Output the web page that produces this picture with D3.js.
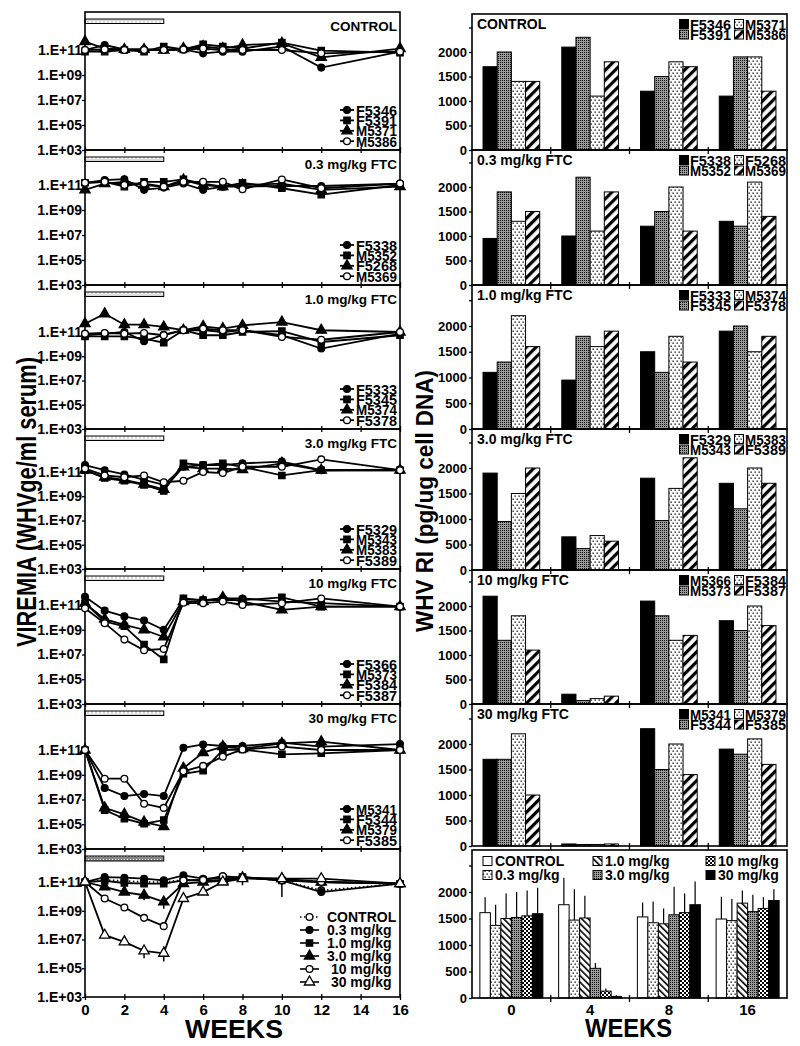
<!DOCTYPE html>
<html><head><meta charset="utf-8">
<script src="https://cdn.jsdelivr.net/npm/d3@7"></script>
<style>
body{margin:0;background:#fff}
svg{display:block}
text{font-family:"Liberation Sans",Arial,Helvetica,sans-serif;font-weight:bold;fill:#000}
</style>
</head><body>
<svg id="c" width="800" height="1046"></svg>
<script>
// ---------------- DATA ----------------
const weeks = [0,1,2,3,4,5,6,7,8,10,12,16];
const weekTicks = [0,2,4,6,8,10,12,14,16];
const weekTickLabels = ["0","2","4","6","8","10","12","14","16"];
const logTicks = [1e3,1e5,1e7,1e9,1e11];
const logTickLabels = ["1.E+03","1.E+05","1.E+07","1.E+09","1.E+11"];
const treatmentWeeks = [0,4];
const panelTitles = ["CONTROL","0.3 mg/kg FTC","1.0 mg/kg FTC","3.0 mg/kg FTC","10 mg/kg FTC","30 mg/kg FTC"];

const leftAnimals = [
  ["F5346","F5391","M5371","M5386"],
  ["F5338","M5352","F5268","M5369"],
  ["F5333","F5345","M5374","F5378"],
  ["F5329","M5343","M5383","F5389"],
  ["F5366","M5373","F5384","F5387"],
  ["M5341","F5344","M5379","F5385"]
];
const rightAnimals = [
  ["F5346","F5391","M5371","M5386"],
  ["F5338","M5352","F5268","M5369"],
  ["F5333","F5345","M5374","F5378"],
  ["F5329","M5343","M5383","F5389"],
  ["M5366","M5373","F5384","F5387"],
  ["M5341","F5344","M5379","F5385"]
];

// viremia (WHVge/ml serum), one row per animal, values at `weeks`
const viremiaControl = [
  [1e11,2.5e11,1.1e11,1.1e11,1e11,1.1e11,5.4e10,7.4e10,7.4e10,1.9e11,3.9e9,7.4e10],
  [7.4e10,7.4e10,1e11,7.4e10,1.9e11,1.1e11,2.8e11,1.9e11,1.3e11,3.9e11,8.9e10,6.2e10],
  [4.7e11,1.3e11,1.1e11,1.1e11,1e11,1.3e11,1.9e11,1.3e11,2.5e11,3.4e11,2.6e10,1.3e11],
  [1e11,1.1e11,1e11,1e11,1e11,1.1e11,1.3e11,1e11,1e11,1e11,5.4e10,7.4e10]
];
const viremia03 = [
  [1.5e11,2.5e11,2.9e11,4.1e10,6.2e10,1.3e11,4.1e10,7.4e10,7.4e10,8.3e10,8.3e10,1.3e11],
  [1.5e11,1.8e11,7.4e10,1.8e11,1.8e11,2.8e11,1.3e11,7.4e10,1.5e11,5.5e10,1.7e10,1e11],
  [4.1e10,1.3e11,1.8e11,1e11,7.4e10,2.5e11,1e11,7.4e10,1e11,1.3e11,4.1e10,7.4e10],
  [1.5e11,1.8e11,1e11,1.3e11,7.4e10,1.8e11,1.8e11,1.8e11,4.6e10,2.8e11,5.5e10,1.3e11]
];
const viremia1 = [
  [5.4e10,7.3e10,1e11,1.7e10,6e10,1.4e11,1.4e11,1e11,1.4e11,5.4e10,4.3e9,7.3e10],
  [4.4e10,4.4e10,4.4e10,2.8e10,1.3e10,1.4e11,5.4e10,5.4e10,1e11,1.2e11,1.5e10,5.4e10],
  [4.8e11,3.2e12,4e11,4e11,2.6e11,1.4e11,2.9e11,1.9e11,3.5e11,6.6e11,1.4e11,1e11],
  [7.3e10,8.3e10,7.3e10,8.3e10,5.4e10,1.4e11,1.9e11,1.4e11,1.4e11,3.9e10,2.3e10,1e11]
];
const viremia3 = [
  [3.7e11,1.4e11,6.3e10,2.2e10,8.7e9,2.7e11,3.7e11,3.7e11,5.2e11,7.2e11,1.4e11,1.6e11],
  [1.4e11,3.2e10,1.9e10,8.7e9,2.7e9,5.2e11,3.7e11,5.2e11,2.7e11,5.2e10,1.4e11,1.4e11],
  [1.4e11,3.7e10,2.2e10,1e10,3.7e9,2.7e11,1.9e11,1.9e11,1.6e11,5.2e11,1.4e11,1.4e11],
  [1.9e11,5.2e10,3.7e10,5.2e10,1.4e10,1.9e10,1e11,8.2e10,2.7e11,2.7e11,1.1e12,1.4e11]
];
const viremia10 = [
  [4.6e11,3.5e10,1.2e10,5.6e9,1e9,2.8e11,2.5e11,3.4e11,3.4e11,1.9e11,1.4e11,7.4e10],
  [1.4e11,4.6e9,1.9e9,6.3e7,4e6,3.4e11,2.5e11,2.5e11,2.5e11,4.1e11,7.4e10,7.4e10],
  [1.4e11,7.1e9,2.5e9,1e9,2.6e8,1.9e11,1.9e11,4.1e11,1.9e11,4e10,7.4e10,7.4e10],
  [5.4e10,3.4e9,1.6e8,2.2e7,2.8e7,1.5e11,1.4e11,1.9e11,1e11,1.4e11,3.4e11,7.4e10]
];
const viremia30 = [
  [1e11,8.5e7,1.9e7,2.8e7,1.9e7,1.5e11,2.8e11,2.1e11,2.1e11,3.9e11,1.9e11,3e11],
  [1e11,1.4e6,2.8e5,1.1e5,2.2e5,1.2e9,2.1e9,1e11,1.1e11,4.5e10,5.4e10,1e11],
  [1e11,2.1e6,6.3e5,1.5e5,6.5e4,3.4e9,6.2e10,1.9e11,1.3e11,3.4e11,4.7e11,1e11],
  [1e11,4.8e8,4.8e8,4.5e6,2.1e6,1.9e9,5.2e9,2.9e10,1.1e11,1.9e11,1e11,1e11]
];

// group means (bottom-left panel)
const meanGroups = ["CONTROL","0.3 mg/kg","1.0 mg/kg","3.0 mg/kg"," 10 mg/kg"," 30 mg/kg"];
const meanViremia = [
  [1e11,1.4e11,1.2e11,1e11,1e11,1.4e11,1.4e11,2.5e11,2e11,1.3e11,2.6e10,7.6e10],
  [1e11,2.2e11,2e11,1.7e11,1.3e11,2.9e11,1.7e11,1.7e11,2.2e11,1.3e11,2e10,7.6e10],
  [1e11,1.2e11,8.5e10,7.6e10,7.6e10,1.3e11,1.3e11,1.3e11,2.2e11,1.3e11,1e11,7.6e10],
  [1e11,4.5e10,2e10,1.2e10,4.1e9,7.6e10,1e11,1.2e11,2e11,1.7e11,1e11,7.6e10],
  [1e11,7.1e9,1.7e9,3.2e8,8.5e7,1.3e11,1.4e11,2.5e11,2e11,1.3e11,1e11,7.6e10],
  [1e11,2e7,6.9e6,1.6e6,1.1e6,7.1e9,2e10,1e11,1.7e11,1.7e11,1.7e11,7.6e10]
];
// error bars: [group index, week, low, high]
const meanViremiaErr = [
  [5,1,1.4e7,3e7],[5,2,4e6,1.2e7],[5,3,4.9e5,3.2e6],[5,4,2.9e5,3.2e6],
  [3,3,5.4e9,2e10],[3,4,1.4e9,9.1e9],[4,4,4.5e7,1.3e8],
  [3,8,5.9e10,2.2e11],[1,10,9.1e9,2.9e11],[0,12,2e10,2.9e11]
];

// WHV RI (pg/ug cell DNA)
const riWeeks = ["0","4","8","16"];
const riTicks = [0,500,1000,1500,2000,2500];
const riTickLabels = ["0","500","1000","1500","2000",""];
const riControl = [[1700,2100,1200,1100],[2000,2300,1500,1900],[1400,1100,1800,1900],[1400,1800,1700,1200]];
const ri03 = [[950,1000,1200,1300],[1900,2200,1500,1200],[1300,1100,2000,2100],[1500,1900,1100,1400]];
const ri1 = [[1100,950,1500,1900],[1300,1800,1100,2000],[2200,1600,1800,1500],[1600,1900,1300,1800]];
const ri3 = [[1900,650,1800,1700],[950,420,970,1200],[1500,675,1600,2000],[2000,565,2200,1700]];
const ri10 = [[2200,200,2100,1700],[1300,70,1800,1500],[1800,110,1300,2000],[1100,160,1400,1600]];
const ri30 = [[1700,40,2300,1900],[1700,30,1500,1800],[2200,30,2000,2100],[1000,40,1400,1600]];
const riMeanGroups = ["CONTROL","0.3 mg/kg","1.0 mg/kg","3.0 mg/kg","10 mg/kg","30 mg/kg"];
const riMean = [[1610,1760,1530,1490],[1370,1470,1420,1460],[1500,1510,1400,1790],[1520,560,1570,1630],[1550,130,1610,1690],[1590,30,1760,1840]];
const riSD = [[290,510,270,420],[390,580,400,410],[470,420,290,240],[480,100,530,320],[480,50,360,210],[490,20,440,210]];

// ---------------- LAYOUT ----------------
const viremiaSets = [viremiaControl,viremia03,viremia1,viremia3,viremia10,viremia30];
const riSets = [riControl,ri03,ri1,ri3,ri10,ri30];
const LP = [
  {top:12,b:150,y11:50},{top:150,b:285,y11:185},{top:285,b:429,y11:332},
  {top:429,b:569,y11:472},{top:569,b:704,y11:605},{top:704,b:849,y11:750},
  {top:849,b:997,y11:882}
];
const RP = [
  {top:14,y0:150,y2k:52},{top:150,y0:285,y2k:187},{top:285,y0:429,y2k:326},
  {top:429,y0:570,y2k:468},{top:570,y0:704,y2k:606},{top:704,y0:846,y2k:744},
  {top:850,y0:998,y2k:892}
];
const XL0 = 85, XL1 = 400, XR0 = 472, XR1 = 787;

const svg = d3.select("#c");
const defs = svg.append("defs");
function pat(id,w,h,draw,tr){
  const p = defs.append("pattern").attr("id",id).attr("patternUnits","userSpaceOnUse")
    .attr("width",w).attr("height",h);
  if(tr) p.attr("patternTransform",tr);
  draw(p);
}
pat("gray",2,2,p=>{
  p.append("rect").attr("width",2).attr("height",2).attr("fill","#9a9a9a");
  p.append("rect").attr("width",1).attr("height",1).attr("fill","#111");
});
pat("dots",4,6,p=>{
  p.append("rect").attr("width",4).attr("height",6).attr("fill","#fff");
  p.append("rect").attr("x",0.5).attr("y",0.5).attr("width",1.3).attr("height",1.3).attr("fill","#000");
  p.append("rect").attr("x",2.5).attr("y",3.5).attr("width",1.3).attr("height",1.3).attr("fill","#000");
});
pat("hatch",7,7,p=>{
  p.append("rect").attr("width",7).attr("height",7).attr("fill","#fff");
  p.append("rect").attr("width",3.2).attr("height",7).attr("fill","#000");
},"rotate(45)");
pat("bhatch",4.6,4.6,p=>{
  p.append("rect").attr("width",4.6).attr("height",4.6).attr("fill","#fff");
  p.append("rect").attr("width",1.6).attr("height",4.6).attr("fill","#000");
},"rotate(-45)");
pat("check",4,4,p=>{
  p.append("rect").attr("width",4).attr("height",4).attr("fill","#fff");
  p.append("rect").attr("width",2).attr("height",2).attr("fill","#000");
  p.append("rect").attr("x",2).attr("y",2).attr("width",2).attr("height",2).attr("fill","#000");
});
pat("treat",4,5,p=>{
  p.append("rect").attr("width",4).attr("height",5).attr("fill","#d8d8d8");
  p.append("rect").attr("x",1).attr("y",1).attr("width",2).attr("height",3).attr("fill","#fff");
});
pat("treatDark",3,3,p=>{
  p.append("rect").attr("width",3).attr("height",3).attr("fill","#888");
  p.append("rect").attr("x",1).attr("y",1).attr("width",1).attr("height",1).attr("fill","#eee");
});

const animalFills = ["#000","url(#gray)","url(#dots)","url(#hatch)"];
const meanFills = ["#fff","url(#dots)","url(#bhatch)","url(#gray)","url(#check)","#000"];
const animalSymbols = [d3.symbolCircle,d3.symbolSquare,d3.symbolTriangle,d3.symbolCircle];
const animalFilled = [true,true,true,false];
const meanSymbols = [d3.symbolCircle,d3.symbolCircle,d3.symbolSquare,d3.symbolTriangle,d3.symbolCircle,d3.symbolTriangle];
const meanFilled = [false,true,true,true,false,false];
const symSize = s => s===d3.symbolSquare ? 40 : (s===d3.symbolTriangle ? 46 : 36);

const xL = d3.scaleLinear().domain([0,16]).range([XL0,XL1]);

function drawMarker(g,x,y,sym,filled){
  g.append("path").attr("d",d3.symbol().type(sym).size(symSize(sym))())
    .attr("transform",`translate(${x},${y})`)
    .attr("fill",filled?"#000":"#fff").attr("stroke","#000").attr("stroke-width",1.3);
}

function styleAxis(g,fs){
  g.select(".domain").remove();
  g.selectAll(".tick line").attr("stroke","#000").attr("stroke-width",1.3);
  g.selectAll(".tick text").attr("font-size",fs).attr("font-family","Liberation Sans, Arial, sans-serif").attr("font-weight","bold").attr("fill","#000");
}

// ---------- LEFT PANELS ----------
LP.forEach((p,i)=>{
  const g = svg.append("g");
  const y = d3.scaleLog().domain([1e3,1e11]).range([p.b,p.y11]);
  const isMean = i===6;
  // treatment bar
  g.append("rect").attr("x",xL(treatmentWeeks[0])).attr("y",p.top+7)
    .attr("width",xL(treatmentWeeks[1])-xL(treatmentWeeks[0])).attr("height",isMean?5:4.5)
    .attr("fill",isMean?"url(#treatDark)":"url(#treat)").attr("stroke","#000").attr("stroke-width",1);
  // axes
  const ya = g.append("g").attr("transform",`translate(${XL0},0)`)
    .call(d3.axisLeft(y).tickValues(logTicks).tickFormat((d,k)=>logTickLabels[k]).tickSize(3).tickPadding(0));
  styleAxis(ya,"14px");
  const xb = g.append("g").attr("transform",`translate(0,${p.b})`)
    .call(d3.axisBottom(xL).tickValues(weekTicks).tickSize(3).tickPadding(4)
      .tickFormat((d,k)=> isMean ? weekTickLabels[k] : ""));
  styleAxis(xb,"15px");
  const xt = g.append("g").attr("transform",`translate(0,${p.b})`)
    .call(d3.axisTop(xL).tickValues(weekTicks).tickSize(3).tickFormat(""));
  styleAxis(xt,"10px");
  g.append("rect").attr("x",XL0).attr("y",p.top).attr("width",XL1-XL0).attr("height",p.b-p.top)
    .attr("fill","none").attr("stroke","#000").attr("stroke-width",1.6);

  const line = d3.line().x((d,k)=>xL(weeks[k])).y(d=>y(d));
  if(!isMean){
    g.append("text").attr("x",397).attr("y",p.top+19).attr("text-anchor","end")
      .attr("font-size","13.5px").text(panelTitles[i]);
    const sets = viremiaSets[i];
    sets.forEach((s,si)=>{
      g.append("path").attr("d",line(s)).attr("fill","none").attr("stroke","#000").attr("stroke-width",1.8);
    });
    sets.forEach((s,si)=>{
      s.forEach((v,k)=>drawMarker(g,xL(weeks[k]),y(v),animalSymbols[si],animalFilled[si]));
    });
    // legend
    leftAnimals[i].forEach((name,si)=>{
      const cy = p.b-40+si*10.4;
      g.append("line").attr("x1",340).attr("x2",354).attr("y1",cy).attr("y2",cy).attr("stroke","#000").attr("stroke-width",1.8);
      drawMarker(g,347,cy,animalSymbols[si],animalFilled[si]);
      g.append("text").attr("x",356).attr("y",cy+5.5).attr("font-size","14.5px").attr("textLength",41).attr("lengthAdjust","spacingAndGlyphs").text(name);
    });
  } else {
    // error bars
    meanViremiaErr.forEach(e=>{
      const x = xL(e[1]);
      g.append("line").attr("x1",x).attr("x2",x).attr("y1",y(e[2])).attr("y2",y(e[3])).attr("stroke","#000").attr("stroke-width",1.5);
    });
    meanViremia.forEach((s,si)=>{
      g.append("path").attr("d",line(s)).attr("fill","none").attr("stroke","#000")
        .attr("stroke-width",si===0?1.6:1.8).attr("stroke-dasharray",si===0?"1.5,2.5":null);
    });
    meanViremia.forEach((s,si)=>{
      s.forEach((v,k)=>drawMarker(g,xL(weeks[k]),y(v),meanSymbols[si],meanFilled[si]));
    });
    meanGroups.forEach((name,si)=>{
      const cy = p.top+68+si*13;
      g.append("line").attr("x1",300).attr("x2",319).attr("y1",cy).attr("y2",cy).attr("stroke","#000")
        .attr("stroke-width",1.6).attr("stroke-dasharray",si===0?"1.5,2.5":null);
      drawMarker(g,309.5,cy,meanSymbols[si],meanFilled[si]);
      g.append("text").attr("x",327).attr("y",cy+5).attr("font-size","14px").style("white-space","pre").text(name);
    });
  }
});

// ---------- RIGHT PANELS ----------
RP.forEach((p,i)=>{
  const g = svg.append("g");
  const isMean = i===6;
  const y = d3.scaleLinear().domain([0,2000]).range([p.y0,p.y2k]);
  const xR = d3.scaleBand().domain(riWeeks).range([XR0,XR1])
    .paddingInner(isMean?0.2:0.28).paddingOuter(isMean?0.1:0.14);
  const nS = isMean?6:4;
  const xS = d3.scaleBand().domain(d3.range(nS)).range([0,xR.bandwidth()]);
  const ya = g.append("g").attr("transform",`translate(${XR0},0)`)
    .call(d3.axisLeft(y).tickValues(riTicks).tickFormat((d,k)=>riTickLabels[k]).tickSize(3).tickPadding(2));
  styleAxis(ya,"13px");
  // x ticks between groups
  riWeeks.slice(1).forEach(w=>{
    const bx = xR(w) - xR.step()*xR.paddingInner()/2;
    g.append("line").attr("x1",bx).attr("x2",bx).attr("y1",p.y0-3).attr("y2",p.y0+4).attr("stroke","#000").attr("stroke-width",1.3);
  });
  if(isMean){
    const xa = g.append("g").attr("transform",`translate(0,${p.y0})`)
      .call(d3.axisBottom(xR).tickSize(0).tickPadding(6));
    styleAxis(xa,"15px");
    riMean.forEach((s,si)=>{
      s.forEach((v,k)=>{
        const x = xR(riWeeks[k])+xS(si);
        g.append("line").attr("x1",x+xS.bandwidth()/2).attr("x2",x+xS.bandwidth()/2)
          .attr("y1",y(v)).attr("y2",y(v+riSD[si][k])).attr("stroke","#000").attr("stroke-width",1.2);
        g.append("rect").attr("x",x).attr("y",y(v)).attr("width",xS.bandwidth()).attr("height",p.y0-y(v))
          .attr("fill",meanFills[si]).attr("stroke","#000").attr("stroke-width",1);
      });
    });
    riMeanGroups.forEach((name,si)=>{
      const col = Math.floor(si/2), row = si%2;
      const sx = [487,597,710][col], cy = p.top+11+row*14;
      g.append("rect").attr("x",sx-4).attr("y",cy-4.5).attr("width",9).attr("height",9)
        .attr("fill",meanFills[si]).attr("stroke","#000").attr("stroke-width",1);
      g.append("text").attr("x",sx+8).attr("y",cy+5).attr("font-size","14px").text(name);
    });
  } else {
    g.append("text").attr("x",477).attr("y",p.top+15).attr("font-size","14px").text(panelTitles[i]);
    riSets[i].forEach((s,si)=>{
      s.forEach((v,k)=>{
        const x = xR(riWeeks[k])+xS(si);
        g.append("rect").attr("x",x).attr("y",y(v)).attr("width",xS.bandwidth()).attr("height",p.y0-y(v))
          .attr("fill",animalFills[si]).attr("stroke","#000").attr("stroke-width",1);
      });
    });
    rightAnimals[i].forEach((name,si)=>{
      const col = si>=2?1:0, row = si%2;
      const sx = [684,739][col], cy = p.top+10+row*10.5;
      g.append("rect").attr("x",sx-4.5).attr("y",cy-4.5).attr("width",9).attr("height",9)
        .attr("fill",animalFills[si]).attr("stroke","#000").attr("stroke-width",1);
      g.append("text").attr("x",sx+6).attr("y",cy+5.5).attr("font-size","14.5px")
        .attr("textLength",41).attr("lengthAdjust","spacingAndGlyphs").text(name);
    });
  }
  g.append("rect").attr("x",XR0).attr("y",p.top).attr("width",XR1-XR0).attr("height",p.y0-p.top)
    .attr("fill","none").attr("stroke","#000").attr("stroke-width",1.6);
});

// ---------- TITLES ----------
svg.append("text").attr("transform","translate(36,502) rotate(-90)").attr("text-anchor","middle")
  .attr("font-size","28px").attr("textLength",290).attr("lengthAdjust","spacingAndGlyphs")
  .text("VIREMIA (WHVge/ml serum)");
svg.append("text").attr("transform","translate(433,501) rotate(-90)").attr("text-anchor","middle")
  .attr("font-size","24px").attr("textLength",262).attr("lengthAdjust","spacingAndGlyphs")
  .text("WHV RI (pg/ug cell DNA)");
svg.append("text").attr("x",185).attr("y",1038).attr("font-size","25px")
  .attr("textLength",98).attr("lengthAdjust","spacingAndGlyphs").text("WEEKS");
svg.append("text").attr("x",585).attr("y",1037).attr("font-size","25px")
  .attr("textLength",87).attr("lengthAdjust","spacingAndGlyphs").text("WEEKS");
</script>
</body></html>
